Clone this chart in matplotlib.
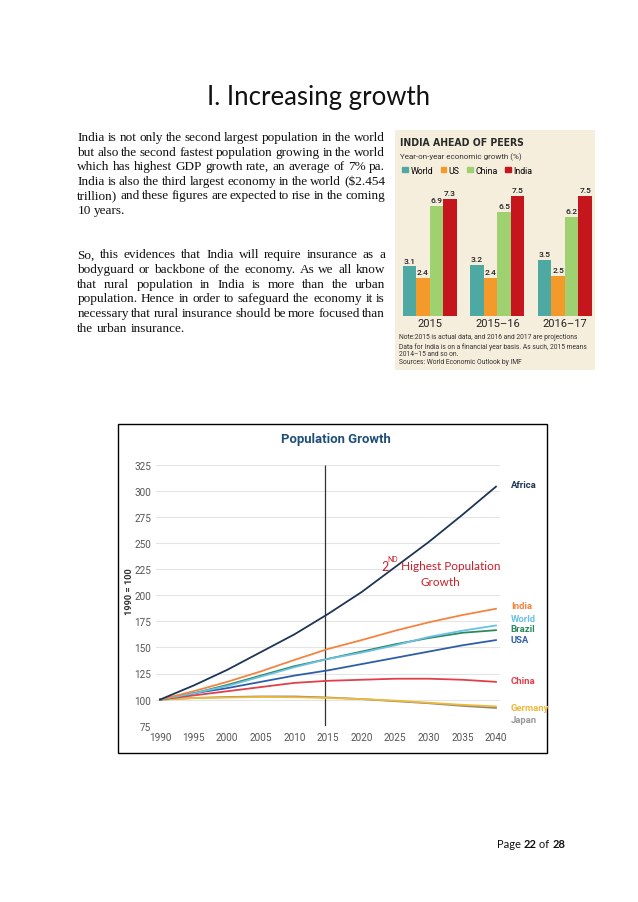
# page 22 – increasing growth: text, bar chart and population growth chart

import matplotlib
matplotlib.use('Agg')
from matplotlib import pyplot as plt
from matplotlib.patches import Rectangle, Patch
import numpy as np

# --- bar chart data (year-on-year economic growth, %) ---
periods = ['2015', '2015–16', '2016–17']
world_gdp = [3.1, 3.2, 3.5]
us_gdp = [2.4, 2.4, 2.5]
china_gdp = [6.9, 6.5, 6.2]
india_gdp = [7.3, 7.5, 7.5]

# --- population growth data (1990 = 100) ---
years = [1990, 1995, 2000, 2005, 2010, 2015, 2020, 2025, 2030, 2035, 2040]
africa = [100, 113.5, 128.5, 145.5, 162.5, 182, 203, 227, 251, 277, 304]
india = [100, 108, 117, 127, 138, 148.5, 157, 166, 174, 181, 187]
world = [100, 106, 113, 122, 131, 139, 145, 152, 160, 166, 171]
brazil = [100, 106, 114, 123, 132, 139, 146, 153, 159, 164, 166.5]
usa = [100, 106, 111, 117, 123, 128, 134, 140, 146, 152, 157]
china = [100, 104, 108, 112, 116, 118, 119, 120, 120, 119, 117]
germany = [100, 101.5, 102, 102.5, 102.3, 101.6, 100.5, 99, 97, 95, 93.5]
japan = [100, 101.5, 102.5, 103, 103, 102, 100.5, 98.5, 96.5, 94, 92]

para1 = ["India is not only the second largest population in the world",
         "but also the second fastest population growing in the world",
         "which has highest GDP growth rate, an average of 7% pa.",
         "India is also the third largest economy in the world ($2.454",
         "trillion) and these figures are expected to rise in the coming",
         "10 years."]
para2 = ["So, this evidences that India will require insurance as a",
         "bodyguard or backbone of the economy. As we all know",
         "that rural population in India is more than the urban",
         "population. Hence in order to safeguard the economy it is",
         "necessary that rural insurance should be more focused than",
         "the urban insurance."]

W, H = 638, 903
fig = plt.figure(figsize=(W / 100, H / 100), dpi=100)
fig.patch.set_facecolor('white')
r = fig.canvas.get_renderer()


def fx(x):
    return x / W


def fy(y):
    return 1 - y / H


def fit(t, width):
    # scale font so the text spans the wanted pixel width
    w = t.get_window_extent(r).width
    t.set_fontsize(t.get_fontsize() * width / w)
    return t


def justify(lines, x0, x1, y0, dy, size):
    for i, line in enumerate(lines):
        y = y0 + i * dy
        words = line.split()
        ts = [fig.text(0, fy(y), w, fontsize=size, family='Liberation Serif',
                       va='baseline', color='#111') for w in words]
        ws = [t.get_window_extent(r).width for t in ts]
        if i == len(lines) - 1:
            gap = size * 100 / 72 * 0.25
        else:
            gap = (x1 - x0 - sum(ws)) / (len(words) - 1)
        x = x0
        for t, w in zip(ts, ws):
            t.set_x(fx(x))
            x += w + gap


# title
t = fig.text(fx(319), fy(105), 'I. Increasing growth', family='Lato',
             fontsize=18, ha='center', va='baseline', color='#111')
fit(t, 222)

justify(para1, 77.3, 385, 141, 14.6, 9.5)
justify(para2, 77.3, 385, 258.5, 14.6, 9.5)

# ---------------- bar chart panel ----------------
fig.add_artist(Rectangle((fx(395), fy(371)), 200 / W, 240 / H,
                         transform=fig.transFigure, facecolor='#f6eedc',
                         edgecolor='none', zorder=-10))
t = fig.text(fx(400), fy(143), 'INDIA AHEAD OF PEERS', family='DejaVu Sans',
             stretch='condensed', weight='bold', fontsize=10, va='center',
             color='#2a2a2a')
fit(t, 123)
t = fig.text(fx(400), fy(157), 'Year-on-year economic growth (%)',
             family='Roboto', fontsize=7, va='center', color='#333')
fit(t, 123)

ax_b = fig.add_axes([fx(396), fy(317), 200 / W, 127 / H])
ax_b.set_facecolor('none')
x = np.arange(len(periods))
bw = 0.2
bar_sets = [(world_gdp, 'World', '#4fa9a3'), (us_gdp, 'US', '#f39a2b'),
            (china_gdp, 'China', '#9fd171'), (india_gdp, 'India', '#c4161c')]
for i, (vals, name, col) in enumerate(bar_sets):
    bars = ax_b.bar(x + (i - 1.5) * bw, vals, width=bw, color=col, label=name)
    for b, v in zip(bars, vals):
        ax_b.annotate(f'{v}', (b.get_x() + b.get_width() / 2, v),
                      xytext=(0, 2), textcoords='offset points', ha='center',
                      va='bottom', fontsize=6, family='Roboto', color='#222',
                      weight='medium')
ax_b.set_xlim(-0.5, 2.46)
ax_b.set_ylim(0, 127 / 16)
ax_b.set_xticks(x, periods)
ax_b.tick_params(length=0, pad=1.5, labelsize=8)
for lab in ax_b.get_xticklabels():
    lab.set_family('Roboto')
    lab.set_color('#222')
ax_b.set_yticks([])
for s in ax_b.spines.values():
    s.set_visible(False)
ax_b.legend(handles=[Patch(color=c, label=n) for _, n, c in bar_sets],
            loc='center left', bbox_to_anchor=(fx(398), fy(171)),
            bbox_transform=fig.transFigure, ncol=4, frameon=False,
            handlelength=0.6, handleheight=0.6,
            handletextpad=0.3, columnspacing=0.9, borderpad=0,
            prop={'family': 'Roboto', 'size': 6.3})

notes = ['Note:2015 is actual data, and 2016 and 2017 are projections',
         'Data for India is on a financial year basis. As such, 2015 means',
         '2014–15 and so on.',
         'Sources: World Economic Outlook by IMF']
note_y = [338, 347, 355, 363]
nt = [fig.text(fx(399), fy(yy), s, family='Roboto', fontsize=5, va='center',
               color='#333') for s, yy in zip(notes, note_y)]
fit(nt[1], 190)
for n in nt:
    n.set_fontsize(nt[1].get_fontsize())

# ---------------- population growth chart ----------------
fig.add_artist(Rectangle((fx(118), fy(754)), 429 / W, 329 / H,
                         transform=fig.transFigure, facecolor='white',
                         edgecolor='black', lw=1, zorder=-10))
t = fig.text(fx(336), fy(440), 'Population Growth', family='Roboto',
             weight='bold', fontsize=10, ha='center', va='center',
             color='#1f4e79')
fit(t, 110)
t = fig.text(fx(130), fy(592), '1990 = 100', family='Roboto', weight='bold',
             fontsize=6.5, ha='center', va='center', rotation=90,
             color='#333')
fit_w = t.get_window_extent(r).height
t.set_fontsize(t.get_fontsize() * 47 / fit_w)

ax = fig.add_axes([fx(156), fy(726.7), 344 / W, 261 / H])
ax.set_facecolor('none')
series = [
    (japan, 'Japan', '#8d877a'),
    (germany, 'Germany', '#f0b93a'),
    (china, 'China', '#e0404a'),
    (usa, 'USA', '#2f5ea8'),
    (brazil, 'Brazil', '#2a8a5e'),
    (world, 'World', '#6cc0e5'),
    (india, 'India', '#f4843f'),
    (africa, 'Africa', '#1f3556'),
]
for vals, name, col in series:
    ax.plot(years, vals, color=col, lw=1.3, clip_on=False, zorder=3)

label_y = {'Africa': 306, 'India': 190, 'World': 177.5, 'Brazil': 168,
           'USA': 157.5, 'China': 118, 'Germany': 92, 'Japan': 81}
for vals, name, col in series:
    c = '#999999' if name == 'Japan' else col
    ax.text(2042.2, label_y[name], name, color=c, fontsize=6.8,
            weight='bold', family='Roboto', va='center', clip_on=False)

ax.vlines(2014.5, 75, 325, color='#333', lw=0.9, zorder=2)
ax.set_xlim(1989.4, 2040.6)
ax.set_ylim(75, 325)
ax.set_xticks(years)
ax.set_yticks(range(75, 326, 25))
ax.tick_params(length=0, labelsize=7.2, labelcolor='#555')
ax.tick_params(axis='x', pad=4.3)
ax.tick_params(axis='y', pad=3.6)
for lab in ax.get_xticklabels() + ax.get_yticklabels():
    lab.set_family('Roboto')
ax.grid(axis='y', color='#e4e4e4', lw=0.8, zorder=0)
ax.set_axisbelow(True)
for s in ax.spines.values():
    s.set_visible(False)

# red annotation
red = '#cc1f2a'
fig.text(fx(381), fy(567), '2', family='Lato', fontsize=9, color=red,
         va='center')
fig.text(fx(387.5), fy(560), 'ND', family='Lato', fontsize=5, color=red,
         va='center')
t = fig.text(fx(401), fy(567), 'Highest Population', family='Lato',
             fontsize=9, color=red, va='center')
fit(t, 99)
fig.text(fx(440.7), fy(583), 'Growth', family='Lato',
         fontsize=t.get_fontsize(), color=red, va='center', ha='center')

# page number
x = 496.7
for s, wt in [('Page ', 'normal'), ('22', 'bold'), (' of ', 'normal'),
              ('28', 'bold')]:
    p = fig.text(fx(x), fy(844.7), s, family='Lato', fontsize=8, weight=wt,
                 va='center', color='#111')
    x += p.get_window_extent(r).width

fig.savefig('out.png', dpi=100)
